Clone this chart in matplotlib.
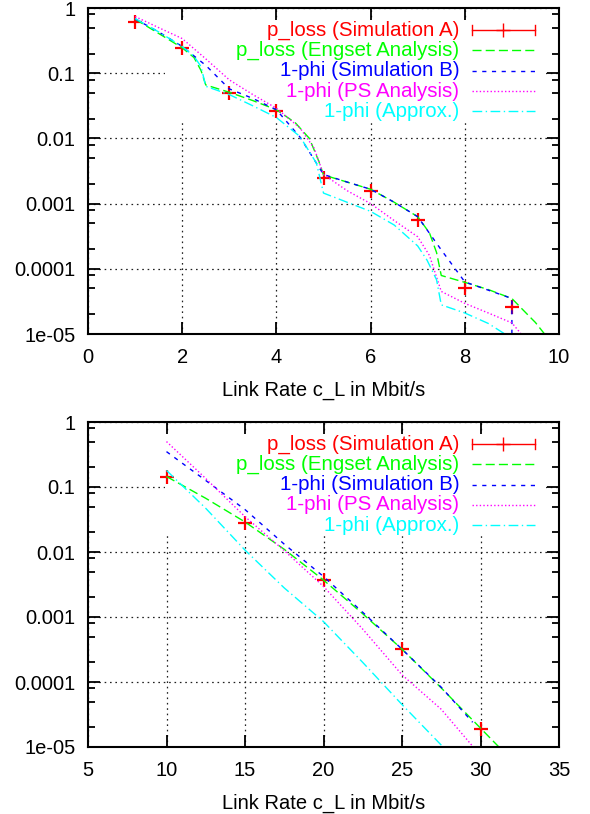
import matplotlib
matplotlib.use('Agg')
import matplotlib.pyplot as plt
from matplotlib.ticker import LogLocator, NullFormatter
from matplotlib.patches import Rectangle

plt.rcParams['font.family'] = ['Liberation Sans', 'DejaVu Sans']
plt.rcParams['font.size'] = 14.5

# ---- upper panel ----
rate_sim_a_top = [1, 2, 3, 4, 5, 6, 7, 8, 9]
ploss_sim_a_top = [0.62, 0.24, 0.050, 0.0266, 0.0025, 0.00158, 0.00056, 5.1e-5, 2.57e-5]

rate_engset_top = [1, 1.5, 2, 2.25, 2.4, 2.5, 3, 3.5, 4, 4.4, 4.7, 4.9, 5, 5.5, 6,
                   6.5, 7, 7.25, 7.4, 7.5, 8, 8.5, 9, 9.3, 9.5, 9.8]
ploss_engset_top = [0.676, 0.407, 0.245, 0.174, 0.11, 0.066, 0.051, 0.038, 0.0275,
                    0.0174, 0.01, 0.00447, 0.00275, 0.00214, 0.00166, 0.00105,
                    6.3e-4, 3.55e-4, 1.78e-4, 7.9e-5, 6.2e-5, 4.8e-5, 3.5e-5,
                    2.1e-5, 1.5e-5, 8e-6]

rate_sim_b_top = [1, 1.5, 2, 2.5, 3, 3.5, 4, 4.5, 5, 5.5, 6, 6.5, 7, 7.5, 8, 8.5, 9, 9]
phi_sim_b_top = [0.68, 0.43, 0.257, 0.132, 0.0575, 0.041, 0.0275, 0.0105, 0.0028,
                 0.00214, 0.00166, 0.00105, 6.3e-4, 1.95e-4, 6.3e-5, 4.7e-5,
                 3.5e-5, 1e-6]

rate_ps_top = [1, 1.5, 2, 2.5, 3, 3.5, 4, 4.5, 4.8, 5, 5.5, 6, 6.5, 7, 7.25, 7.5,
               8, 8.5, 9, 9.25]
phi_ps_top = [0.74, 0.5, 0.34, 0.166, 0.079, 0.047, 0.029, 0.0145, 0.0071, 0.0028,
              0.00158, 0.001, 5.5e-4, 3.1e-4, 1.6e-4, 4.5e-5, 2.95e-5, 2.1e-5,
              1.48e-5, 9e-6]

rate_approx_top = [1, 1.5, 2, 2.25, 2.4, 2.5, 3, 3.5, 4, 4.5, 4.85, 5, 5.5, 6, 6.5,
                   7, 7.2, 7.4, 7.5, 8, 8.5, 8.95]
phi_approx_top = [0.69, 0.43, 0.257, 0.182, 0.126, 0.063, 0.047, 0.0316, 0.0209,
                  0.0107, 0.00417, 0.00145, 0.00105, 7.6e-4, 4.7e-4, 2.24e-4,
                  1.35e-4, 6.8e-5, 2.8e-5, 2.1e-5, 1.45e-5, 9e-6]

# ---- lower panel ----
rate_sim_a_bot = [10, 15, 20, 25, 30]
ploss_sim_a_bot = [0.144, 0.028, 0.0037, 0.00032, 1.9e-5]

rate_engset_bot = [10, 12.5, 15, 17.5, 20, 22.5, 25, 27.5, 30, 31.5]
ploss_engset_bot = [0.145, 0.067, 0.029, 0.011, 0.0037, 0.00112, 0.00032, 8.1e-5,
                    1.95e-5, 8.3e-6]

rate_sim_b_bot = [10, 12.5, 15, 17.5, 20, 22.5, 25, 27.5, 29.5]
phi_sim_b_bot = [0.35, 0.126, 0.045, 0.0132, 0.0042, 0.00118, 0.00032, 8.3e-5, 2.4e-5]

rate_ps_bot = [10, 12.5, 15, 17.5, 20, 22.5, 25, 27.5, 29.7]
phi_ps_bot = [0.5, 0.135, 0.035, 0.0105, 0.00295, 6.5e-4, 1.29e-4, 3.8e-5, 9e-6]

rate_approx_bot = [10, 12.5, 15, 17.5, 20, 22.5, 25, 27.8]
phi_approx_bot = [0.18, 0.047, 0.0107, 0.0028, 8.5e-4, 2.0e-4, 4.5e-5, 9e-6]

labels = ['p_loss (Simulation A)', 'p_loss (Engset Analysis)', '1-phi (Simulation B)',
          '1-phi (PS Analysis)', '1-phi (Approx.)']
colors = ['#ff0000', '#00ff00', '#0000ff', '#ff00ff', '#00ffff']
dashes = [None, (6.5, 3), (3, 4), (1, 1.6), (7, 2.5, 1, 2.5)]

ytick_vals = [1, 0.1, 0.01, 0.001, 0.0001, 1e-05]
ytick_labels = ['1', '0.1', '0.01', '0.001', '0.0001', '1e-05']


def draw_panel(ax, sim_x, sim_y, curves, xlim, xticks):
    ax.set_yscale('log')
    ax.set_xlim(xlim)
    ax.set_ylim(1e-5, 1)
    ax.set_xticks(xticks)
    ax.set_xticklabels([str(t) for t in xticks])
    ax.set_yticks(ytick_vals)
    ax.set_yticklabels(ytick_labels)
    ax.yaxis.set_minor_locator(LogLocator(base=10, subs=[2, 5, 8]))
    ax.yaxis.set_minor_formatter(NullFormatter())
    ax.tick_params(which='both', direction='in', top=True, right=True, width=1.3)
    ax.tick_params(which='major', length=8.5, pad=9)
    ax.tick_params(which='minor', length=4.7)
    ax.tick_params(axis='x', pad=10)
    for s in ax.spines.values():
        s.set_linewidth(1.5)
    ax.grid(True, which='major', color='#202020', linestyle=(0, (1.3, 3)), linewidth=0.9)

    # key area hides the grid but not the curves
    ax.add_patch(Rectangle((0.163, 0.65), 0.81, 0.312, transform=ax.transAxes,
                           facecolor='white', edgecolor='none', zorder=1.7))

    ax.plot(sim_x, sim_y, linestyle='none', marker='+', markersize=9.5,
            markeredgewidth=1.6, color=colors[0], zorder=2)
    for i, (cx, cy) in enumerate(curves, start=1):
        ax.plot(cx, cy, color=colors[i], linewidth=1.0, dashes=dashes[i], zorder=2)

    # key, text on the left, sample on the right
    x_text, x0, x1 = 0.788, 0.815, 0.949
    for i, lab in enumerate(labels):
        y = 0.932 - i * 0.0623
        ax.text(x_text, y, lab, color=colors[i], ha='right', va='center',
                transform=ax.transAxes, fontsize=14.8)
        if i == 0:
            ax.plot([x0, x1], [y, y], color=colors[0], lw=1.0, transform=ax.transAxes)
            for xe in (x0, x1):
                ax.plot([xe, xe], [y - 0.015, y + 0.015], color=colors[0], lw=1.0,
                        transform=ax.transAxes)
            ax.plot([(x0 + x1) / 2], [y], marker='+', markersize=9.5,
                    markeredgewidth=1.0, color=colors[0], transform=ax.transAxes)
        else:
            ax.plot([x0, x1], [y, y], color=colors[i], lw=1.0, dashes=dashes[i],
                    transform=ax.transAxes)

    ax.set_xlabel('Link Rate c_L in Mbit/s', labelpad=10)


fig = plt.figure(figsize=(5.9, 8.14), dpi=100)
ax1 = fig.add_axes([88 / 590, 1 - 334 / 814, 471 / 590, 326 / 814])
ax2 = fig.add_axes([88 / 590, 1 - 747 / 814, 471 / 590, 325 / 814])

draw_panel(ax1, rate_sim_a_top, ploss_sim_a_top,
           [(rate_engset_top, ploss_engset_top), (rate_sim_b_top, phi_sim_b_top),
            (rate_ps_top, phi_ps_top), (rate_approx_top, phi_approx_top)],
           (0, 10), [0, 2, 4, 6, 8, 10])
draw_panel(ax2, rate_sim_a_bot, ploss_sim_a_bot,
           [(rate_engset_bot, ploss_engset_bot), (rate_sim_b_bot, phi_sim_b_bot),
            (rate_ps_bot, phi_ps_bot), (rate_approx_bot, phi_approx_bot)],
           (5, 35), [5, 10, 15, 20, 25, 30, 35])

fig.savefig('out.png', dpi=100)
